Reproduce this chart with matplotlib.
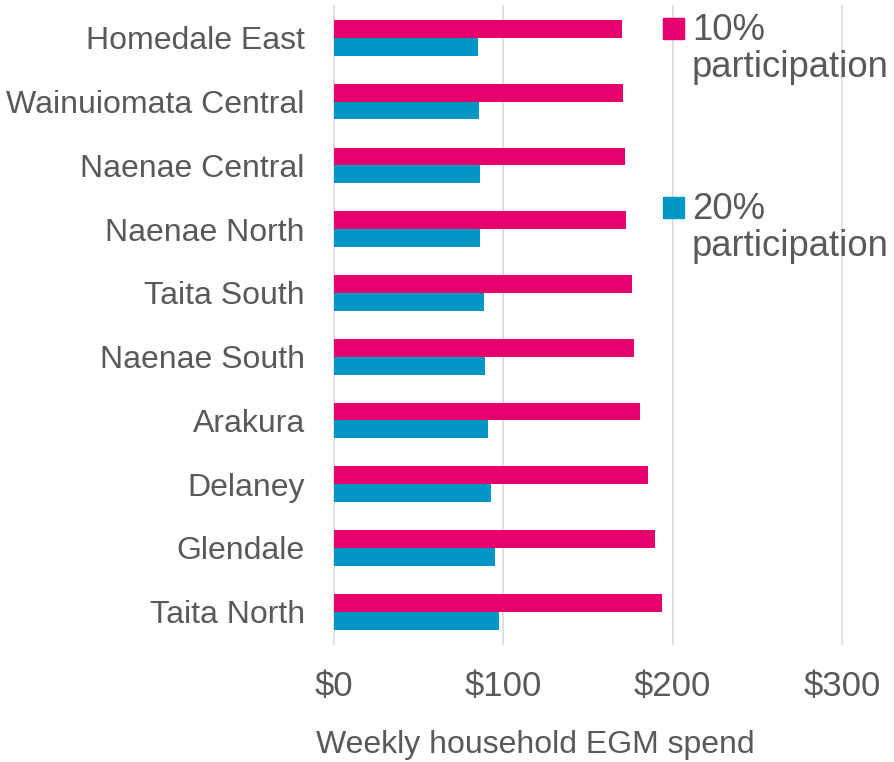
import numpy as np
import matplotlib.pyplot as plt
from matplotlib.patches import Rectangle

plt.rcParams['font.family'] = ['Liberation Sans', 'DejaVu Sans']

areas = ['Homedale East', 'Wainuiomata Central', 'Naenae Central', 'Naenae North',
         'Taita South', 'Naenae South', 'Arakura', 'Delaney', 'Glendale', 'Taita North']
spend_10 = [169.9, 170.5, 172.1, 172.3, 176.2, 177.4, 180.9, 185.5, 189.6, 193.7]
spend_20 = [85.2, 85.4, 86.2, 86.4, 88.4, 89.0, 90.8, 92.9, 95.1, 97.3]
series_names = ['10%', '20%']
x_ticks = [0, 100, 200, 300]

pink = '#E6006E'
blue = '#0096C8'
grey_text = '#595959'
W, H = 894, 762

fig = plt.figure(figsize=(W / 100, H / 100), dpi=100)
ax = fig.add_axes([334 / W, 1 - 643.6 / H, (842 - 334) / W, (643.6 - 6) / H])

y = np.arange(len(areas))
h = 0.28
ax.barh(y - h / 2, spend_10, height=h, color=pink, zorder=3)
ax.barh(y + h / 2, spend_20, height=h, color=blue, zorder=3)

ax.set_ylim(len(areas) - 0.5, -0.5)
ax.set_xlim(0, 300)
ax.set_yticks(y)
ax.set_yticklabels(areas, fontsize=23, color=grey_text)
ax.set_xticks(x_ticks)
ax.set_xticklabels(['$' + str(v) for v in x_ticks], fontsize=25, color=grey_text)
ax.tick_params(axis='y', length=0, pad=21)
ax.tick_params(axis='x', length=0, pad=19)
for s in ax.spines.values():
    s.set_visible(False)
ax.set_axisbelow(True)
ax.grid(axis='x', color='#d9d9d9', linewidth=1.2)
ax.grid(axis='y', visible=False)
for gl in ax.get_xgridlines():
    gl.set_clip_on(False)

fig.text(535 / W, 1 - 745 / H, 'Weekly household EGM spend', fontsize=23,
         color=grey_text, ha='center', va='center')

# legend drawn by hand: square marker + two-line label
for name, col, cy in zip(series_names, [pink, blue], [28, 207]):
    fig.patches.append(Rectangle((663 / W, 1 - (cy + 10.5) / H), 21 / W, 21 / H,
                                 transform=fig.transFigure, color=col))
    fig.text(692 / W, 1 - (cy + 12) / H, name, fontsize=26.3, color=grey_text,
             ha='left', va='baseline')
    fig.text(692 / W, 1 - (cy + 49) / H, 'participation', fontsize=26.3,
             color=grey_text, ha='left', va='baseline')

fig.savefig('out.png', dpi=100)
